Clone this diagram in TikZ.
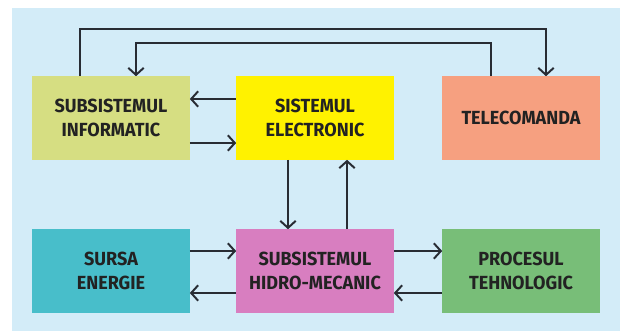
\documentclass[tikz,border=0pt]{standalone}
\usepackage{fontspec}
\setmainfont{Fira Sans}
\newfontfamily\blocfont{Fira Sans}[FakeStretch=0.95]
\usetikzlibrary{arrows.meta}
\definecolor{fundal}{RGB}{211,236,248}
\definecolor{linie}{RGB}{40,44,52}
\definecolor{textgri}{RGB}{34,34,34}
\definecolor{cinfo}{RGB}{214,222,130}
\definecolor{celec}{RGB}{255,242,0}
\definecolor{ctele}{RGB}{246,160,128}
\definecolor{csursa}{RGB}{72,190,202}
\definecolor{chidro}{RGB}{216,126,192}
\definecolor{cproc}{RGB}{120,190,120}
\begin{document}
\begin{tikzpicture}[x=0.025cm,y=-0.025cm,>={Straight Barb[length=5pt,width=11pt]},
    bloc/.style={minimum width=3.925cm,minimum height=2.075cm,inner sep=0pt,align=center,
        font=\blocfont\fontsize{13.5}{17}\selectfont\bfseries,text=textgri},
    sag/.style={->,line width=1.4pt,draw=linie}]
    \useasboundingbox (0,0) rectangle (620,331);
    \fill[fundal] (12,8) rectangle (620,331);
    % blocurile
    \node[bloc,fill=cinfo] (info) at (111,118) {SUBSISTEMUL\\INFORMATIC};
    \node[bloc,fill=celec] (elec) at (315,118) {SISTEMUL\\ELECTRONIC};
    \node[bloc,fill=ctele] (tele) at (521,118) {TELECOMANDA};
    \node[bloc,fill=csursa] (sursa) at (111,271) {SURSA\\ENERGIE};
    \node[bloc,fill=chidro] (hidro) at (315,271) {SUBSISTEMUL\\HIDRO-MECANIC};
    \node[bloc,fill=cproc] (proc) at (521,271) {PROCESUL\\TEHNOLOGIC};
    % buclele de sus
    \coordinate (a1) at (80,29); \coordinate (a2) at (546,29);
    \coordinate (b1) at (491,43); \coordinate (b2) at (136,43);
    \draw[sag] (a1 |- info.north) -- (a1) -- (a2) -- (a2 |- tele.north);
    \draw[sag] (b1 |- tele.north) -- (b1) -- (b2) -- (b2 |- info.north);
    % sagetile orizontale si verticale
    \foreach \s/\t/\y in {elec.west/info.east/99, info.east/elec.west/143,
        sursa.east/hidro.west/251, hidro.west/sursa.east/293,
        hidro.east/proc.west/251, proc.west/hidro.east/293}
    \draw[sag] (\s |- 0,\y) -- (\t |- 0,\y);
    \foreach \s/\t/\x in {elec.south/hidro.north/288, hidro.north/elec.south/347}
    \draw[sag] (\s -| \x,0) -- (\t -| \x,0);
\end{tikzpicture}
\end{document}
